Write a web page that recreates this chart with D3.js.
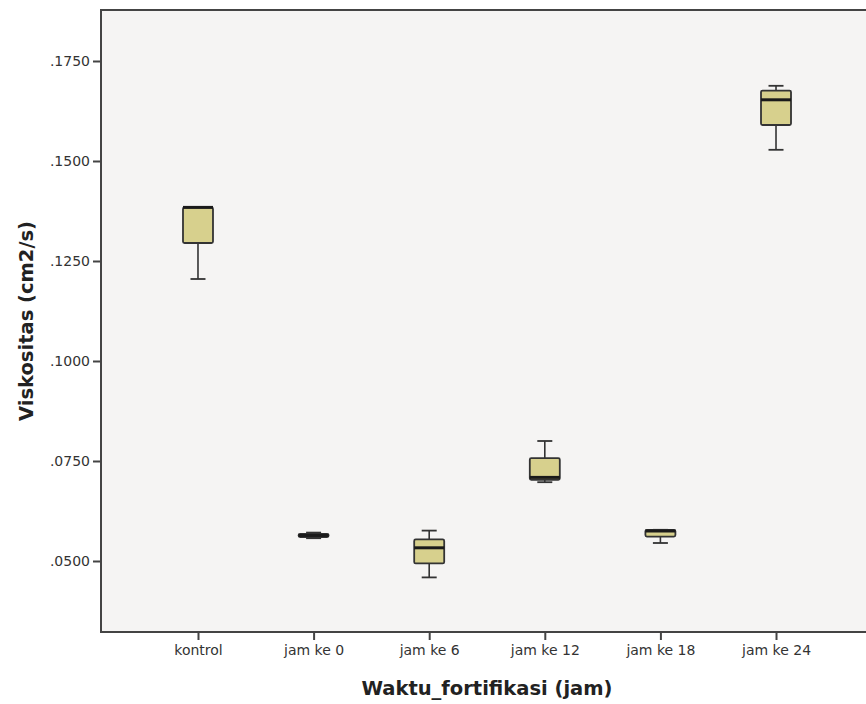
<!DOCTYPE html>
<html>
<head>
<meta charset="utf-8">
<script src="https://cdn.jsdelivr.net/npm/d3@7"></script>
<style>
  body { margin: 0; background: #fff; }
  svg { display: block; }
</style>
</head>
<body>
<div id="chart"></div>
<script>
// groups on the x axis
const categories = ['kontrol', 'jam ke 0', 'jam ke 6', 'jam ke 12', 'jam ke 18', 'jam ke 24'];

// five-number summaries (cm2/s)
const whiskerLow = [0.1205, 0.0557, 0.0459, 0.0697, 0.0545, 0.1528];
const q1Values = [0.1295, 0.0560, 0.0494, 0.0703, 0.0561, 0.1590];
const medians = [0.1384, 0.0564, 0.0533, 0.0709, 0.0575, 0.1653];
const q3Values = [0.1384, 0.0568, 0.0554, 0.0757, 0.0578, 0.1676];
const whiskerHigh = [0.1384, 0.0571, 0.0576, 0.0800, 0.0578, 0.1688];

const yTicks = [0.05, 0.075, 0.1, 0.125, 0.15, 0.175];
const xTitle = 'Waktu_fortifikasi (jam)';
const yTitle = 'Viskositas (cm2/s)';

const width = 866;
const height = 704;
const plot = {left: 101, top: 10, right: 873, bottom: 632};

const boxes = categories.map((c, i) => ({
  name: c,
  lo: whiskerLow[i],
  q1: q1Values[i],
  med: medians[i],
  q3: q3Values[i],
  hi: whiskerHigh[i],
}));

const x = d3.scalePoint()
  .domain(categories)
  .range([plot.left, plot.right])
  .padding(0.839);

const y = d3.scaleLinear()
  .domain([0.03225, 0.18775])
  .range([plot.bottom, plot.top]);

const boxWidth = 30;
const capWidth = 15;
const font = '"DejaVu Sans", Verdana, sans-serif';

const svg = d3.select('#chart').append('svg')
  .attr('width', width)
  .attr('height', height)
  .attr('font-family', font);

// plot background
svg.append('rect')
  .attr('x', plot.left)
  .attr('y', plot.top)
  .attr('width', plot.right - plot.left)
  .attr('height', plot.bottom - plot.top)
  .attr('fill', '#f5f4f3');

const g = svg.append('g')
  .selectAll('g')
  .data(boxes)
  .join('g')
  .attr('transform', (d) => `translate(${x(d.name)},0)`);

// whiskers
g.append('line')
  .attr('y1', (d) => y(d.hi))
  .attr('y2', (d) => y(d.q3))
  .attr('stroke', '#333')
  .attr('stroke-width', 1.6);

g.append('line')
  .attr('y1', (d) => y(d.q1))
  .attr('y2', (d) => y(d.lo))
  .attr('stroke', '#333')
  .attr('stroke-width', 1.6);

g.selectAll('line.cap')
  .data((d) => [d.lo, d.hi])
  .join('line')
  .attr('class', 'cap')
  .attr('x1', -capWidth / 2)
  .attr('x2', capWidth / 2)
  .attr('y1', (v) => y(v))
  .attr('y2', (v) => y(v))
  .attr('stroke', '#333')
  .attr('stroke-width', 1.8);

// boxes
g.append('rect')
  .attr('x', -boxWidth / 2)
  .attr('y', (d) => y(d.q3))
  .attr('width', boxWidth)
  .attr('height', (d) => Math.max(1, y(d.q1) - y(d.q3)))
  .attr('rx', 1.5)
  .attr('fill', '#d7d08d')
  .attr('stroke', '#333')
  .attr('stroke-width', 1.8);

// medians
g.append('line')
  .attr('x1', -boxWidth / 2)
  .attr('x2', boxWidth / 2)
  .attr('y1', (d) => y(d.med))
  .attr('y2', (d) => y(d.med))
  .attr('stroke', '#1a1a1a')
  .attr('stroke-width', 3);

// frame
svg.append('rect')
  .attr('x', plot.left)
  .attr('y', plot.top)
  .attr('width', plot.right - plot.left)
  .attr('height', plot.bottom - plot.top)
  .attr('fill', 'none')
  .attr('stroke', '#444')
  .attr('stroke-width', 2);

// y axis
const yAxis = svg.append('g')
  .attr('transform', `translate(${plot.left},0)`)
  .call(d3.axisLeft(y)
    .tickValues(yTicks)
    .tickSize(8)
    .tickPadding(3)
    .tickFormat((v) => d3.format('.4f')(v).replace(/^0/, '')));

yAxis.select('.domain').remove();
yAxis.selectAll('.tick line').attr('stroke', '#444').attr('stroke-width', 2);
yAxis.selectAll('.tick text')
  .attr('font-family', font)
  .attr('font-size', 14)
  .attr('fill', '#333');

// x axis
const xAxis = svg.append('g')
  .attr('transform', `translate(0,${plot.bottom})`)
  .call(d3.axisBottom(x)
    .tickSize(8)
    .tickPadding(5));

xAxis.select('.domain').remove();
xAxis.selectAll('.tick line').attr('stroke', '#444').attr('stroke-width', 2);
xAxis.selectAll('.tick text')
  .attr('font-family', font)
  .attr('font-size', 14)
  .attr('fill', '#333');

// titles
svg.append('text')
  .attr('x', (plot.left + plot.right) / 2)
  .attr('y', 695)
  .attr('text-anchor', 'middle')
  .attr('font-size', 19.5)
  .attr('font-weight', 'bold')
  .attr('fill', '#222')
  .text(xTitle);

svg.append('text')
  .attr('transform', `translate(33,${(plot.top + plot.bottom) / 2}) rotate(-90)`)
  .attr('text-anchor', 'middle')
  .attr('font-size', 19.5)
  .attr('font-weight', 'bold')
  .attr('fill', '#222')
  .text(yTitle);
</script>
</body>
</html>
